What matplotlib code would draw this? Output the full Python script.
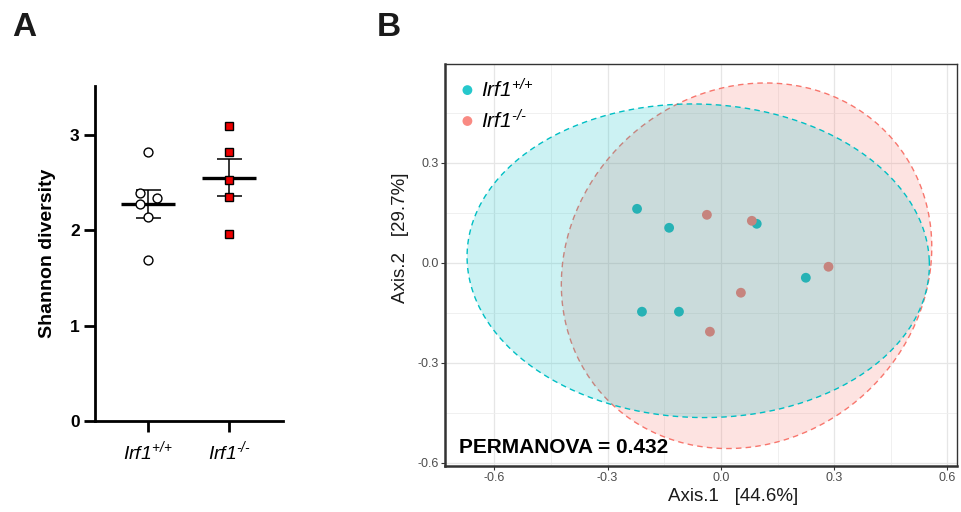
import matplotlib

matplotlib.use("Agg")
import matplotlib.pyplot as plt
import numpy as np

plt.rcParams["font.family"] = ["Liberation Sans", "DejaVu Sans"]
plt.rcParams["mathtext.fontset"] = "custom"
plt.rcParams["mathtext.rm"] = "Liberation Sans:italic"
plt.rcParams["mathtext.it"] = "Liberation Sans:italic"
plt.rcParams["mathtext.bf"] = "Liberation Sans:bold"

# Panel A: Shannon diversity per mouse
GROUPS = [r"$\mathrm{Irf1}^{\text{+/+}}$", r"$\mathrm{Irf1}^{\text{-/-}}$"]
SHANNON_WT = [2.82, 2.39, 2.34, 2.27, 2.14, 1.69]
WT_OFFSET = [0.0, -0.105, 0.105, -0.105, 0.0, 0.0]
SHANNON_KO = [3.09, 2.82, 2.53, 2.35, 1.96]
KO_OFFSET = [0.0, 0.0, 0.0, 0.0, 0.0]

# Panel B: PCoA ordination
WT_AX1 = [-0.222, -0.137, 0.095, 0.225, -0.209, -0.111]
WT_AX2 = [0.162, 0.105, 0.117, -0.045, -0.147, -0.147]
KO_AX1 = [-0.037, 0.082, 0.285, 0.053, -0.029]
KO_AX2 = [0.144, 0.126, -0.012, -0.090, -0.207]
# ellipse: centre x, centre y, radius x, radius y, shear
WT_ELLIPSE = [-0.060, 0.006, 0.612, 0.471, -0.016]
KO_ELLIPSE = [0.068, -0.009, 0.488, 0.549, 0.05]
AXIS1_PCT = 44.6
AXIS2_PCT = 29.7
PERMANOVA = 0.432

TEAL = "#00BFC4"
SALMON = "#F8766D"


def ellipse_path(params, n=200):
    cx, cy, rx, ry, sx = params
    t = np.linspace(0, 2 * np.pi, n)
    return cx + rx * np.cos(t) + sx * np.sin(t), cy + ry * np.sin(t)


fig = plt.figure(figsize=(9.61, 5.12), dpi=100)

# ---------------- Panel A ----------------
axA = fig.add_axes([0.0989, 0.1777, 0.1956, 0.6543])
for i, (vals, offs, marker, face) in enumerate(
    [(SHANNON_WT, WT_OFFSET, "o", "white"), (SHANNON_KO, KO_OFFSET, "s", "#ee0000")]
):
    pos = i + 1
    v = np.array(vals)
    mean = v.mean()
    sem = v.std(ddof=1) / np.sqrt(len(v))
    axA.plot([pos - 0.33, pos + 0.33], [mean, mean], color="black", lw=2.4, zorder=2,
             solid_capstyle="butt")
    axA.errorbar(pos, mean, yerr=sem, color="black", lw=1.1, capsize=9, capthick=1.1,
                 zorder=2)
    axA.plot(pos + np.array(offs), v, ls="none", marker=marker,
             ms=6.4 if marker == "o" else 6.3,
             mfc=face, mec="black", mew=1.0, zorder=3)

axA.set_xlim(0.345, 2.665)
axA.set_ylim(0, 3.51)
axA.set_yticks([0, 1, 2, 3])
axA.set_yticklabels(["0", "1", "2", "3"], fontsize=12.5, fontweight="bold")
axA.set_xticks([1, 2])
axA.set_xticklabels(GROUPS, fontsize=14)
axA.set_ylabel("Shannon diversity", fontsize=14, fontweight="bold", labelpad=10)
for side in ["top", "right"]:
    axA.spines[side].set_visible(False)
for side in ["left", "bottom"]:
    axA.spines[side].set_linewidth(2)
axA.tick_params(width=2, length=8, direction="out", pad=3)
axA.tick_params(axis="x", pad=5)

# ---------------- Panel B ----------------
axB = fig.add_axes([0.4635, 0.0908, 0.5320, 0.7842])
axB.set_axisbelow(True)
ticks = [-0.6, -0.3, 0.0, 0.3, 0.6]
axB.set_xticks(ticks)
axB.set_yticks(ticks)
axB.set_xticks([-0.45, -0.15, 0.15, 0.45], minor=True)
axB.set_yticks([-0.45, -0.15, 0.15, 0.45], minor=True)
axB.grid(which="major", color="#e6e6e6", lw=0.9)
axB.grid(which="minor", color="#eeeeee", lw=0.6)
axB.tick_params(which="minor", length=0)

axB.scatter(WT_AX1, WT_AX2, s=50, color=TEAL, edgecolors="none", zorder=2)
axB.scatter(KO_AX1, KO_AX2, s=50, color=SALMON, edgecolors="none", zorder=2)
for params, col in [(KO_ELLIPSE, SALMON), (WT_ELLIPSE, TEAL)]:
    ex, ey = ellipse_path(params)
    axB.fill(ex, ey, color=col, alpha=0.2, lw=0, zorder=3)
    axB.plot(ex, ey, color=col, lw=1.0, ls=(0, (4, 3)), zorder=3)

axB.set_xlim(-0.7295, 0.6245)
axB.set_ylim(-0.609, 0.597)
axB.set_xticklabels([f"{t:.1f}" for t in ticks], fontsize=9, color="#4d4d4d")
axB.set_yticklabels([f"{t:.1f}" for t in ticks], fontsize=9, color="#4d4d4d")
axB.tick_params(length=3, width=0.8, color="#333333", pad=2)
axB.set_xlabel(f"Axis.1   [{AXIS1_PCT}%]", fontsize=13.5, color="#1a1a1a")
axB.set_ylabel(f"Axis.2   [{AXIS2_PCT}%]", fontsize=13.5, color="#1a1a1a")
axB.xaxis.set_label_coords(0.5625, -0.056)
axB.yaxis.set_label_coords(-0.072, 0.567)
for side in ["top", "right"]:
    axB.spines[side].set_linewidth(1.0)
    axB.spines[side].set_color("#333333")
for side in ["left", "bottom"]:
    axB.spines[side].set_linewidth(1.8)
    axB.spines[side].set_color("#333333")

# legend
for k, (lab, col) in enumerate(zip(GROUPS, [TEAL, SALMON])):
    yk = 0.935 - k * 0.077
    axB.scatter([0.043], [yk], s=50, color=col, alpha=0.85, edgecolors="none",
                transform=axB.transAxes, zorder=5)
    axB.text(0.07, yk, lab, transform=axB.transAxes, fontsize=15, va="center",
             ha="left", zorder=5)

axB.text(0.027, 0.022, f"PERMANOVA = {PERMANOVA}", transform=axB.transAxes,
         fontsize=15, fontweight="bold", ha="left", va="bottom", zorder=5)

fig.text(0.013, 0.93, "A", fontsize=24, fontweight="bold", color="#1a1a1a")
fig.text(0.392, 0.93, "B", fontsize=24, fontweight="bold", color="#1a1a1a")

fig.savefig("out.png", dpi=100)
